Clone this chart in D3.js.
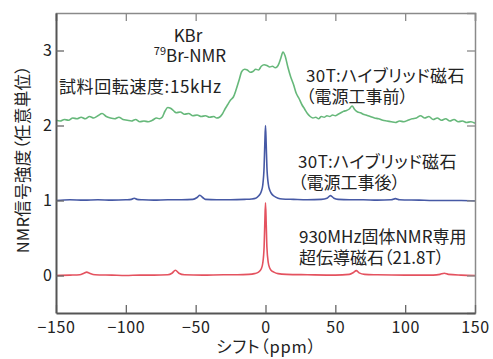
<!DOCTYPE html>
<html>
<head>
<meta charset="utf-8">
<script src="https://cdn.jsdelivr.net/npm/d3@7"></script>
<style>
  body { margin: 0; background: #fff; }
  text { font-family: "Noto Sans CJK JP", "Noto Sans", sans-serif; fill: #222; font-feature-settings: "palt"; }
</style>
</head>
<body>
<div id="chart"></div>
<script>
// shift (ppm), signal (arb. units)
var greenData = [
  [-150,2.07],[-147,2.06],[-144,2.08],[-141,2.07],[-138,2.10],[-135,2.09],[-132,2.11],[-129,2.09],
  [-126,2.12],[-123,2.10],[-120,2.13],[-117,2.16],[-114,2.12],[-111,2.10],[-108,2.09],[-105,2.11],
  [-102,2.08],[-99,2.07],[-96,2.06],[-93,2.08],[-90,2.05],[-87,2.06],[-84,2.05],[-81,2.07],
  [-78,2.10],[-76,2.09],[-74,2.11],[-72,2.19],[-70,2.24],[-68,2.23],[-66,2.20],[-64,2.17],
  [-61,2.18],[-58,2.15],[-55,2.16],[-52,2.13],[-49,2.14],[-46,2.12],[-43,2.13],[-40,2.11],
  [-37,2.12],[-35,2.10],[-33,2.11],[-31,2.15],[-29,2.22],[-27,2.28],[-25,2.34],[-23,2.38],
  [-21,2.48],[-19,2.60],[-17,2.72],[-15,2.75],[-13,2.74],[-11,2.71],[-9,2.72],[-7,2.75],
  [-5,2.74],[-3,2.79],[-1,2.81],[1,2.80],[3,2.78],[5,2.79],[7,2.77],[9,2.80],[11,2.90],
  [12.5,2.98],[14,2.93],[16,2.78],[18,2.65],[20,2.55],[22,2.43],[24,2.36],[26,2.28],[28,2.22],
  [30,2.16],[32,2.12],[34,2.10],[36,2.11],[38,2.09],[40,2.12],[42,2.11],[44,2.13],[46,2.12],
  [48,2.14],[50,2.13],[52,2.15],[54,2.17],[56,2.19],[58,2.20],[60,2.22],[62,2.26],[64,2.21],
  [66,2.18],[68,2.17],[70,2.15],[72,2.14],[75,2.12],[78,2.10],[81,2.09],[84,2.07],[87,2.06],
  [90,2.05],[93,2.04],[96,2.06],[99,2.05],[102,2.07],[105,2.09],[108,2.10],[111,2.13],[114,2.10],
  [117,2.12],[120,2.08],[123,2.10],[126,2.07],[129,2.09],[132,2.06],[135,2.08],[138,2.05],
  [141,2.06],[144,2.04],[147,2.05],[150,2.03]
]

var blueData = [
  [-150,1.00],[-140,1.01],[-130,1.005],[-120,1.01],[-110,1.005],[-100,1.01],[-96,1.015],[-94,1.03],
  [-92,1.015],[-88,1.01],[-80,1.005],[-70,1.01],[-60,1.01],[-52,1.015],[-49,1.04],[-47,1.07],
  [-45,1.04],[-43,1.015],[-35,1.01],[-25,1.01],[-15,1.015],[-10,1.02],[-7,1.03],[-5,1.06],
  [-3,1.12],[-2,1.2],[-1,1.45],[-0.5,1.75],[0,2.0],[0.5,1.75],[1,1.45],[2,1.22],[3,1.14],
  [4,1.1],[6,1.06],[9,1.03],[12,1.02],[20,1.015],[30,1.01],[40,1.015],[44,1.03],[46.5,1.065],
  [49,1.03],[52,1.015],[60,1.01],[70,1.01],[80,1.005],[90,1.01],[93,1.025],[96,1.01],
  [110,1.005],[120,1.0],[130,1.0],[140,1.0],[150,0.995]
]

var redData = [
  [-150,0.0],[-140,0.005],[-133,0.01],[-130,0.03],[-128,0.045],[-126,0.03],[-122,0.01],[-110,0.005],
  [-100,0.0],[-90,0.005],[-80,0.005],[-70,0.01],[-67,0.03],[-64.5,0.07],[-62,0.03],[-58,0.01],
  [-45,0.005],[-30,0.01],[-20,0.01],[-12,0.015],[-8,0.025],[-5,0.045],[-3,0.09],[-2,0.16],
  [-1,0.38],[-0.5,0.7],[0,0.97],[0.5,0.7],[1,0.38],[2,0.17],[3,0.1],[4,0.07],[6,0.045],[9,0.025],
  [15,0.015],[30,0.01],[50,0.005],[60,0.015],[63,0.04],[65,0.065],[67,0.035],[71,0.015],[80,0.01],
  [100,0.005],[120,0.005],[125,0.015],[128,0.03],[131,0.015],[140,0.005],[150,0.0]
]

var xTicks = [-150, -100, -50, 0, 50, 100, 150]
var yTicks = [0, 1, 2, 3]

var width = 493, height = 359
var margin = {top: 13, right: 18, bottom: 46, left: 56}

var svg = d3.select("#chart").append("svg")
    .attr("width", width)
    .attr("height", height)

var x = d3.scaleLinear().domain([-150, 150]).range([margin.left, width - margin.right])
var y = d3.scaleLinear().domain([-0.5, 3.5]).range([height - margin.bottom, margin.top])

var line = d3.line()
    .curve(d3.curveMonotoneX)
    .x(d => x(d[0]))
    .y(d => y(d[1]))

var series = [
  {data: greenData, color: "#66b87a"},
  {data: blueData, color: "#4659a5"},
  {data: redData, color: "#e4525f"}
]

series.forEach(s => {
  svg.append("path")
      .datum(s.data)
      .attr("fill", "none")
      .attr("stroke", s.color)
      .attr("stroke-width", 1.6)
      .attr("stroke-linejoin", "round")
      .attr("d", line)
})

// frame + inward ticks
var gTop = svg.append("g").attr("transform", `translate(0,${margin.top})`)
    .call(d3.axisTop(x).tickValues(xTicks).tickSize(-8).tickFormat(""))
var gRight = svg.append("g").attr("transform", `translate(${width - margin.right},0)`)
    .call(d3.axisRight(y).tickValues(yTicks).tickSize(-8).tickFormat(""))
var gBottom = svg.append("g").attr("transform", `translate(0,${height - margin.bottom})`)
    .call(d3.axisBottom(x).tickValues(xTicks).tickSize(-8).tickSizeOuter(0))
var gLeft = svg.append("g").attr("transform", `translate(${margin.left},0)`)
    .call(d3.axisLeft(y).tickValues(yTicks).tickSize(-8).tickSizeOuter(0).tickFormat(d3.format("d")))

;[gTop, gRight].forEach(g => {
  g.select(".domain").attr("stroke", "#8a8a8a").attr("stroke-width", 1.5)
  g.selectAll(".tick line").attr("stroke", "#8a8a8a").attr("stroke-width", 1.3)
})
;[gBottom, gLeft].forEach(g => {
  g.select(".domain").attr("stroke", "#555").attr("stroke-width", 2)
  g.selectAll(".tick line").attr("stroke", "#666").attr("stroke-width", 1.3)
})

gBottom.selectAll(".tick text")
    .attr("y", 9)
    .attr("dy", "0.71em")
    .attr("font-size", 16)
    .attr("letter-spacing", 0.6)
    .attr("fill", "#222")
    .style("font-family", "'Noto Sans CJK JP', sans-serif")
gLeft.selectAll(".tick text")
    .attr("x", -4)
    .attr("font-size", 16)
    .attr("fill", "#222")
    .style("font-family", "'Noto Sans CJK JP', sans-serif")

// axis titles
svg.append("text")
    .attr("x", x(0) + 1)
    .attr("y", 353)
    .attr("text-anchor", "middle")
    .attr("font-size", 16.5)
    .attr("letter-spacing", 0.8)
    .text("シフト（ppm）")

svg.append("text")
    .attr("transform", `translate(29,${y(1.55)}) rotate(-90)`)
    .attr("text-anchor", "middle")
    .attr("font-size", 16.5)
    .attr("letter-spacing", 0.3)
    .text("NMR信号強度（任意単位）")

// annotations
svg.append("text")
    .attr("x", 188).attr("y", 42)
    .attr("text-anchor", "middle")
    .attr("font-size", 17)
    .text("KBr")

var nmr = svg.append("text")
    .attr("x", 190).attr("y", 62)
    .attr("text-anchor", "middle")
    .attr("font-size", 17)
nmr.append("tspan").attr("font-size", 11).attr("dy", -7).text("79")
nmr.append("tspan").attr("dy", 7).text("Br-NMR")

svg.append("text")
    .attr("x", 59).attr("y", 93)
    .attr("font-size", 17)
    .attr("letter-spacing", 0.6)
    .text("試料回転速度:15kHz")

var labels = [
  {x: 306, y: 82, lines: ["30T:ハイブリッド磁石", "（電源工事前）"]},
  {x: 298, y: 168, lines: ["30T:ハイブリッド磁石", "（電源工事後）"]},
  {x: 299, y: 243, lines: ["930MHz固体NMR専用", "超伝導磁石（21.8T）"]}
]
labels.forEach(l => {
  l.lines.forEach((t, i) => {
    svg.append("text")
        .attr("x", l.x)
        .attr("y", l.y + i * 21)
        .attr("font-size", 17)
        .attr("letter-spacing", t.startsWith("30T") ? 0.4 : 0)
        .text(t)
  })
})
</script>
</body>
</html>
